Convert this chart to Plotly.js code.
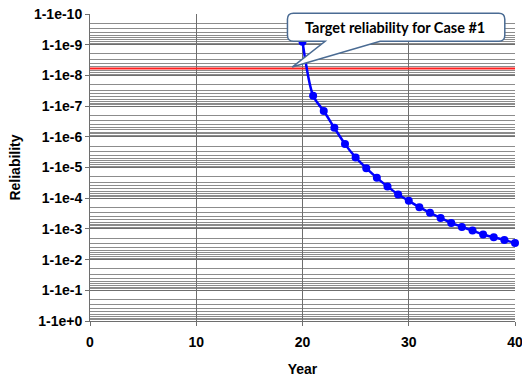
<!DOCTYPE html>
<html>
<head>
<meta charset="utf-8">
<script src="https://cdn.plot.ly/plotly-3.0.1.min.js"></script>
<style>html,body{margin:0;padding:0;background:#fff;}#chart{width:522px;height:377px;}</style>
</head>
<body>
<div id="chart"></div>
<script>
// Data: year vs failure probability (reliability = 1 - value)
const years = [20, 21, 22, 23, 24, 25, 26, 27, 28, 29, 30, 31, 32, 33, 34, 35, 36, 37, 38, 39, 40];
const failProb = [8e-10, 4.6e-8, 1.45e-7, 5.1e-7, 1.73e-6, 4.7e-6, 1.05e-5, 2.17e-5, 4.15e-5, 7.6e-5,
                  1.22e-4, 1.96e-4, 3.0e-4, 4.4e-4, 6.4e-4, 8.6e-4, 1.13e-3, 1.52e-3, 1.87e-3, 2.29e-3, 2.87e-3];
const targetYears = [0, 40];
const targetValue = [6e-9, 6e-9];
const yTickVals = [1e-10, 1e-9, 1e-8, 1e-7, 1e-6, 1e-5, 1e-4, 1e-3, 1e-2, 1e-1, 1e0];
const yTickText = ['1-1e-10', '1-1e-9', '1-1e-8', '1-1e-7', '1-1e-6', '1-1e-5', '1-1e-4', '1-1e-3', '1-1e-2', '1-1e-1', '1-1e+0'];
const xTickVals = [0, 10, 20, 30, 40];
const calloutText = 'Target reliability for Case #1';

const minorVals = [];
for (let d = -10; d < 0; d++) {
  for (let k = 2; k <= 9; k++) minorVals.push(k * Math.pow(10, d));
}

const tickFont = {family: 'Liberation Sans, Arial, sans-serif', size: 14, color: '#000', weight: 'bold'};

const traces = [
  {x: targetYears, y: targetValue, mode: 'lines', line: {color: '#ff2020', width: 2}, hoverinfo: 'skip', showlegend: false},
  {x: years, y: failProb, mode: 'lines+markers', line: {color: '#0000ff', width: 2.5, shape: 'spline', smoothing: 0.8},
   marker: {color: '#0000ff', size: 8}, cliponaxis: false, showlegend: false}
];

// callout geometry in paper coords
const x0 = 0.4646, x1 = 0.9760, yb = 0.9113, yt = 1.0026;
const rx = 0.014, ry = 0.0196;
const bx1 = 0.5533, bx2 = 0.6826, tx = 0.4757, ty = 0.8272;
const path = `M ${x0+rx},${yt} L ${x1-rx},${yt} Q ${x1},${yt} ${x1},${yt-ry} L ${x1},${yb+ry} Q ${x1},${yb} ${x1-rx},${yb} ` +
  `L ${bx2},${yb} L ${tx},${ty} L ${bx1},${yb} L ${x0+rx},${yb} Q ${x0},${yb} ${x0},${yb+ry} L ${x0},${yt-ry} Q ${x0},${yt} ${x0+rx},${yt} Z`;

const layout = {
  width: 522, height: 377,
  margin: {l: 90, r: 7, t: 14, b: 56, pad: 0},
  paper_bgcolor: '#fff', plot_bgcolor: '#fff',
  showlegend: false,
  xaxis: {
    range: [0, 40.0001], tickvals: xTickVals, showgrid: true, gridcolor: '#6e6e6e', gridwidth: 1,
    zeroline: false, showline: true, linecolor: '#6e6e6e', linewidth: 1,
    ticks: 'outside', ticklen: 4, tickcolor: '#6e6e6e', tickfont: tickFont, ticklabelstandoff: 4,
    ticklabeloverflow: 'allow',
    title: {text: '<b>Year</b>', font: {family: 'Liberation Sans, Arial, sans-serif', size: 14, color: '#000'}, standoff: 16}
  },
  yaxis: {
    type: 'log', range: [0, -10], tickvals: yTickVals, ticktext: yTickText,
    showgrid: true, gridcolor: '#6e6e6e', gridwidth: 1,
    showline: true, linecolor: '#6e6e6e', linewidth: 1, zeroline: false,
    ticks: 'outside', ticklen: 4, tickcolor: '#6e6e6e', tickfont: tickFont, ticklabeloverflow: 'allow',
    minor: {tickvals: minorVals, showgrid: true, gridcolor: '#8c8c8c', gridwidth: 1, ticks: ''},
    title: {text: '<b>Reliability</b>', font: {family: 'Liberation Sans, Arial, sans-serif', size: 14, color: '#000'}, standoff: 10}
  },
  shapes: [
    {type: 'path', xref: 'paper', yref: 'paper', path: path, fillcolor: '#ffffff',
     line: {color: '#4a6b93', width: 1.5}, layer: 'above'}
  ],
  annotations: [
    {xref: 'paper', yref: 'paper', x: (x0 + x1) / 2 - 0.003, y: (yb + yt) / 2, text: '<b>' + calloutText + '</b>',
     showarrow: false, font: {family: 'Lato, Open Sans, sans-serif', size: 14.5, color: '#000'}, xanchor: 'center', yanchor: 'middle'}
  ]
};

Plotly.newPlot('chart', traces, layout, {displayModeBar: false, staticPlot: true});
</script>
</body>
</html>
